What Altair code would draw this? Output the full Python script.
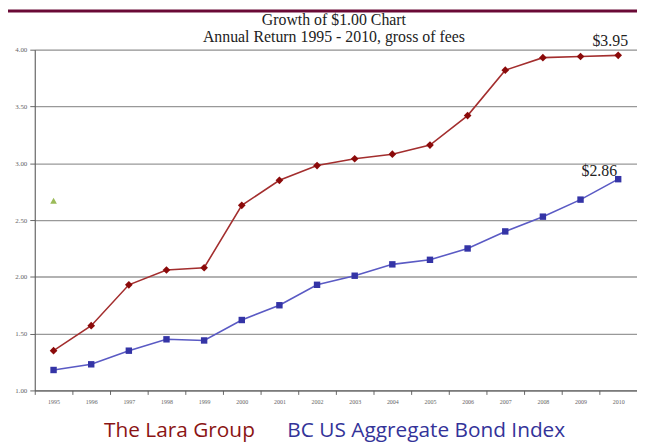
import altair as alt
import pandas as pd

years = [str(y) for y in range(1995, 2011)]
lara = [1.35, 1.57, 1.93, 2.06, 2.08, 2.63, 2.85, 2.98, 3.04, 3.08, 3.16, 3.42, 3.82, 3.93, 3.94, 3.95]
bond = [1.18, 1.23, 1.35, 1.45, 1.44, 1.62, 1.75, 1.93, 2.01, 2.11, 2.15, 2.25, 2.40, 2.53, 2.68, 2.86]
extra_year = ["1995"]
extra_val = [2.67]
title_lines = ["Growth of $1.00 Chart", "Annual Return 1995 - 2010, gross of fees"]
legend_names = ["The Lara Group", "BC US Aggregate Bond Index"]
y_ticks = [1.0, 1.5, 2.0, 2.5, 3.0, 3.5, 4.0]

W, H = 608, 344

df_lara = pd.DataFrame({"year": years, "value": lara})
df_bond = pd.DataFrame({"year": years, "value": bond})
df_extra = pd.DataFrame({"year": extra_year, "value": extra_val})

xs = alt.X("year:O", sort=years,
           scale=alt.Scale(domain=years, paddingInner=0, paddingOuter=0),
           axis=alt.Axis(title=None, labelAngle=0, labelFontSize=6, labelColor="#666",
                         labelFont="Liberation Serif", tickBand="extent", tickSize=4,
                         tickColor="#666", domainColor="#555", grid=False, labelPadding=4))
ys = alt.Y("value:Q", scale=alt.Scale(domain=[1, 4], nice=False, zero=False),
           axis=alt.Axis(title=None, values=y_ticks, format=".2f", labelFontSize=7,
                         labelColor="#666", labelFont="Liberation Serif",
                         grid=True, gridColor="#999", gridWidth=1.3,
                         tickSize=5, tickColor="#666", domainColor="#555", labelPadding=3))

lara_line = alt.Chart(df_lara).mark_line(color="#A32E2E", strokeWidth=1.6).encode(x=xs, y=ys)
lara_pts = alt.Chart(df_lara).mark_point(shape="diamond", filled=True, color="#8B0A0A",
                                         size=60, opacity=1).encode(x=xs, y=ys)
bond_line = alt.Chart(df_bond).mark_line(color="#5A5AC4", strokeWidth=1.6).encode(x=xs, y=ys)
bond_pts = alt.Chart(df_bond).mark_point(shape="square", filled=True, color="#3434A6",
                                         size=42, opacity=1).encode(x=xs, y=ys)
extra_pt = alt.Chart(df_extra).mark_point(shape="triangle-up", filled=True, color="#9BBB59",
                                          size=45, opacity=1).encode(x=xs, y=ys)

lab_lara = alt.Chart(df_lara.tail(1).assign(t="$3.95")).mark_text(
    font="Liberation Serif", fontSize=16, color="#222", dx=-8, dy=-14).encode(x=xs, y=ys, text="t:N")
lab_bond = alt.Chart(df_bond.tail(1).assign(t="$2.86")).mark_text(
    font="Liberation Serif", fontSize=16, color="#222", dx=-19, dy=-8).encode(x=xs, y=ys, text="t:N")

t1 = alt.Chart(pd.DataFrame({"t": [title_lines[0]]})).mark_text(
    font="Liberation Serif", fontSize=16, color="#222", baseline="middle").encode(
    text="t:N", x=alt.value(W / 2 - 2), y=alt.value(-30))
t2 = alt.Chart(pd.DataFrame({"t": [title_lines[1]]})).mark_text(
    font="Liberation Serif", fontSize=16, color="#222", baseline="middle").encode(
    text="t:N", x=alt.value(W / 2 - 2), y=alt.value(-13))

leg1 = alt.Chart(pd.DataFrame({"t": [legend_names[0]]})).mark_text(
    font="Open Sans", fontSize=21, color="#8B1414", align="left", baseline="middle").encode(
    text="t:N", x=alt.value(70), y=alt.value(385))
leg2 = alt.Chart(pd.DataFrame({"t": [legend_names[1]]})).mark_text(
    font="Open Sans", fontSize=21, color="#333399", align="left", baseline="middle").encode(
    text="t:N", x=alt.value(255), y=alt.value(385))

top_bar = alt.Chart(pd.DataFrame({"a": [0]})).mark_rule(color="#6A0A36", strokeWidth=3).encode(
    x=alt.value(-27), x2=alt.value(W + 2), y=alt.value(-39))

chart = alt.layer(lara_line, bond_line, lara_pts, bond_pts, extra_pt, lab_lara, lab_bond,
                  t1, t2, leg1, leg2, top_bar).properties(
    width=W, height=H,
    autosize=alt.AutoSizeParams(type="none"),
    padding={"left": 27, "top": 40, "right": 0, "bottom": 53},
).configure_view(stroke=None).configure(background="white")

chart.save("out.html", embed_options={"renderer": "svg", "actions": False})
